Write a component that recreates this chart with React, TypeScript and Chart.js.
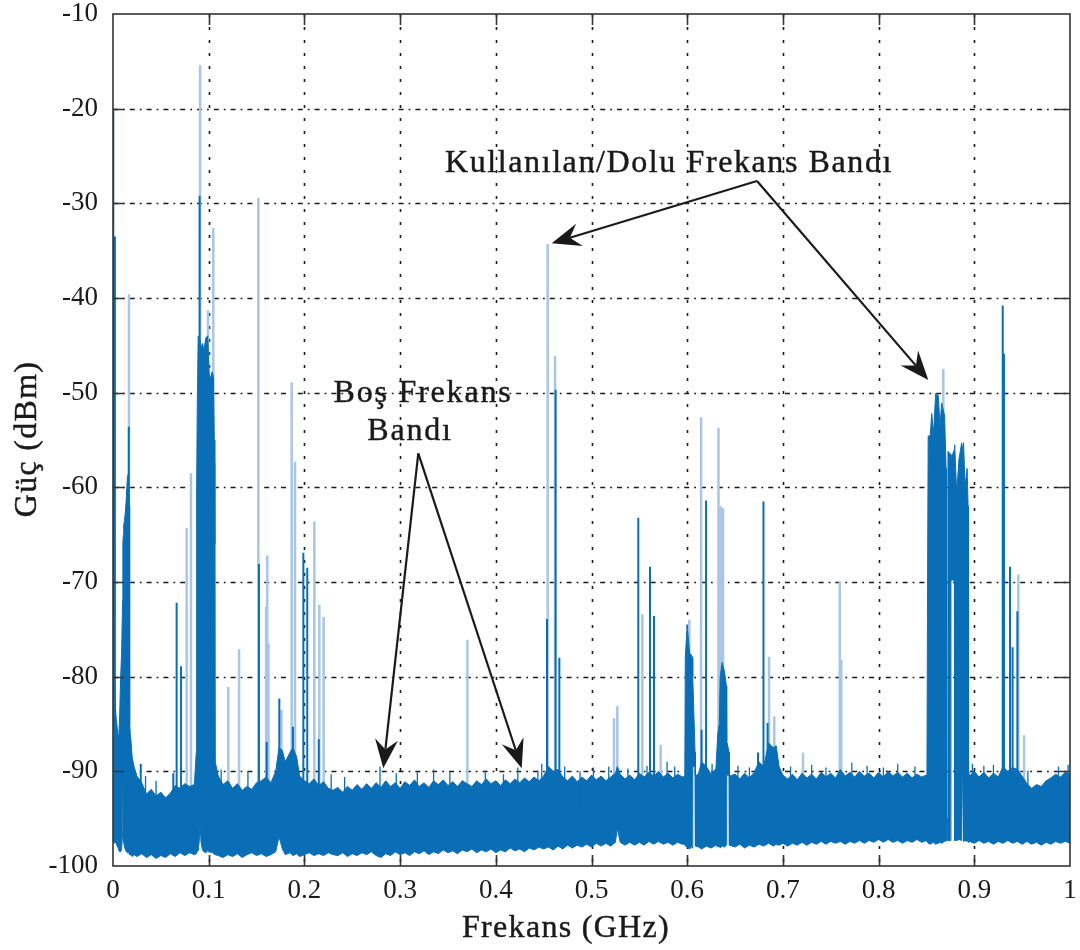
import React, { useEffect, useRef } from "react";
import { Chart, registerables } from "chart.js";

Chart.register(...registerables);

const FONT = "'Liberation Serif', 'Times New Roman', serif";
const DARK = "#0a6eb6";
const LIGHT = "#a9c6e4";
const INK = "#1a1a1a";

// Axis ticks
const xTickValues = [0, 0.1, 0.2, 0.3, 0.4, 0.5, 0.6, 0.7, 0.8, 0.9, 1];
const xTickLabels = ["0", "0.1", "0.2", "0.3", "0.4", "0.5", "0.6", "0.7", "0.8", "0.9", "1"];
const yTickValues = [-100, -90, -80, -70, -60, -50, -40, -30, -20, -10];

// Noise floor envelope (GHz, dBm)
const noiseFreq = [
  0, 0.001, 0.002, 0.003, 0.004, 0.005, 0.006, 0.007, 0.008, 0.009,
  0.01, 0.0103, 0.0108, 0.0112, 0.012, 0.013, 0.014, 0.015, 0.0162, 0.017,
  0.0174, 0.018, 0.019, 0.02, 0.022, 0.025, 0.03, 0.035, 0.04, 0.045,
  0.05, 0.055, 0.06, 0.065, 0.07, 0.075, 0.08, 0.085, 0.087, 0.0874,
  0.088, 0.089, 0.09, 0.091, 0.092, 0.0935, 0.095, 0.097, 0.099, 0.1005,
  0.102, 0.1035, 0.105, 0.1058, 0.1064, 0.1068, 0.11, 0.115, 0.12, 0.125,
  0.13, 0.135, 0.14, 0.145, 0.15, 0.155, 0.16, 0.165, 0.17, 0.1735,
  0.177, 0.18, 0.185, 0.188, 0.192, 0.195, 0.2, 0.205, 0.21, 0.215,
  0.22, 0.225, 0.23, 0.235, 0.24, 0.245, 0.25, 0.255, 0.26, 0.265,
  0.27, 0.275, 0.28, 0.285, 0.29, 0.295, 0.3, 0.305, 0.31, 0.315,
  0.32, 0.325, 0.33, 0.335, 0.34, 0.345, 0.35, 0.355, 0.36, 0.365,
  0.37, 0.375, 0.38, 0.385, 0.39, 0.395, 0.4, 0.405, 0.41, 0.415,
  0.42, 0.425, 0.43, 0.435, 0.44, 0.445, 0.45, 0.455, 0.46, 0.465,
  0.47, 0.475, 0.48, 0.485, 0.49, 0.495, 0.5, 0.505, 0.51, 0.515,
  0.52, 0.525, 0.527, 0.53, 0.535, 0.54, 0.545, 0.55, 0.555, 0.56,
  0.565, 0.57, 0.575, 0.58, 0.585, 0.59, 0.595, 0.5975, 0.598, 0.6,
  0.6025, 0.6045, 0.6055, 0.6058, 0.6082, 0.6086, 0.612, 0.615, 0.62, 0.625,
  0.63, 0.632, 0.6335, 0.6345, 0.6365, 0.639, 0.641, 0.6413, 0.6438, 0.6441,
  0.65, 0.655, 0.66, 0.665, 0.67, 0.675, 0.68, 0.685, 0.69, 0.693,
  0.696, 0.7, 0.705, 0.71, 0.715, 0.72, 0.725, 0.73, 0.735, 0.74,
  0.745, 0.75, 0.755, 0.76, 0.765, 0.77, 0.775, 0.78, 0.785, 0.79,
  0.795, 0.8, 0.805, 0.81, 0.815, 0.82, 0.825, 0.83, 0.835, 0.84,
  0.845, 0.85, 0.8505, 0.8512, 0.8518, 0.854, 0.8555, 0.8575, 0.8596, 0.8624,
  0.8642, 0.8659, 0.869, 0.8705, 0.8709, 0.8712, 0.8722, 0.8725, 0.8752, 0.8756,
  0.8792, 0.8795, 0.8816, 0.884, 0.8868, 0.8877, 0.8885, 0.8888, 0.8903, 0.8925,
  0.8935, 0.894, 0.895, 0.9, 0.905, 0.91, 0.915, 0.92, 0.925, 0.93,
  0.935, 0.94, 0.945, 0.95, 0.955, 0.96, 0.965, 0.97, 0.975, 0.98,
  0.985, 0.99, 0.995, 1,
];
const noiseTop = [
  -76, -80, -82, -84, -85, -86, -86.5, -84, -80, -77.5,
  -72, -66, -65, -64, -63.5, -62.5, -61, -59, -58.5, -62,
  -85, -86, -87, -88.5, -89.5, -90.5, -91.2, -92.4, -91.9, -92.6,
  -92.2, -92.8, -92.3, -91.5, -91.8, -91.3, -91.6, -91.4, -88, -60,
  -52, -44, -44.2, -44.5, -45.3, -44.8, -45.5, -44.2, -44, -48,
  -48.5, -47.8, -48.3, -55, -66, -89, -90.5, -91.4, -91, -91.8,
  -91.3, -92, -91.6, -91.9, -91.2, -91, -90.6, -91.2, -90, -87.5,
  -87.8, -89, -88, -87.5, -88.5, -90.5, -91, -91.3, -90.8, -91.5,
  -91.1, -91.8, -92, -91.7, -92.2, -91.6, -92, -91.4, -91.9, -91.3,
  -91.8, -91.2, -91.7, -91, -91.6, -91.2, -91.8, -91.1, -91.5, -90.9,
  -91.6, -91.2, -91.7, -91, -91.4, -90.9, -91.5, -91.1, -91.6, -91,
  -91.3, -91.6, -91, -91.4, -90.8, -91.3, -91, -91.5, -90.9, -91.3,
  -90.8, -91.2, -90.7, -91.1, -90.6, -91, -90.5, -89.5, -90, -89.8,
  -90.6, -91, -90.5, -91.1, -90.6, -91, -90.4, -90.9, -90.5, -91,
  -90.6, -90.2, -89.5, -90.3, -90.8, -90.4, -90.9, -90.2, -90.6, -90.1,
  -90.5, -90, -90.6, -90.2, -90.7, -90.3, -90.6, -90.5, -78, -74.5,
  -77.5, -77.7, -78, -80, -88, -90.5, -90.2, -89, -89.5, -90.3,
  -89.7, -86, -85, -80, -78.5, -79.5, -81, -86.8, -88, -90.5,
  -90.3, -90.8, -90.2, -90.7, -90.1, -89, -89.5, -87, -87.5, -87.3,
  -89.5, -90.4, -90.8, -90.3, -90.9, -90.2, -90.7, -90.3, -90.8, -90.1,
  -90.6, -90.2, -90.7, -89.8, -90.5, -90.1, -90.6, -90, -90.5, -90.2,
  -90.7, -90.1, -90.6, -90, -90.5, -90.1, -90.6, -90.2, -90.7, -90.3,
  -90.6, -90.4, -90.3, -69, -54.6, -54.5, -52.2, -54.3, -50.1, -50.3,
  -53.6, -51.1, -52.5, -58, -60, -95, -95, -56.2, -56.5, -57,
  -56, -55.5, -60.6, -57, -55.3, -56, -55.5, -55.3, -59.9, -58,
  -62, -89.9, -90.5, -90, -90.6, -90.1, -90.7, -90.2, -90.6, -89.5,
  -90, -89.6, -89.8, -90.5, -91.3, -91.8, -91.4, -91.6, -91, -90.7,
  -90.3, -90.6, -90.1, -90.3,
];
const noiseBottom = [
  -97.3, -97.5, -97.6, -97.5, -97.8, -98, -98.3, -98.5, -98.5, -98.2,
  -96.5, -92, -92, -97.5, -98, -98.3, -98.5, -98.6, -98.6, -98.7,
  -98.8, -98.8, -98.9, -99, -98.8, -99, -98.7, -99.1, -98.8, -99.2,
  -98.9, -99.1, -98.7, -99, -98.6, -98.9, -98.6, -98.8, -98.7, -98.6,
  -98.5, -98.4, -97.5, -95.5, -97.5, -98.3, -98.5, -98.6, -98.4, -98.5,
  -98.6, -98.5, -98.7, -98.6, -98.8, -98.8, -98.9, -99.1, -98.8, -99,
  -98.7, -99.1, -98.8, -98.6, -98.9, -98.7, -99, -98.8, -98.5, -96.9,
  -98.2, -98.8, -98.6, -98.9, -98.7, -99, -98.8, -98.6, -98.9, -98.7,
  -98.9, -98.6, -98.8, -98.9, -98.6, -99, -98.7, -98.9, -98.6, -98.8,
  -98.5, -98.9, -99.1, -98.7, -98.9, -98.5, -98.8, -98.6, -98.9, -98.5,
  -98.7, -98.4, -98.8, -98.5, -98.7, -98.3, -98.6, -98.4, -98.7, -98.3,
  -98.5, -98.2, -98.6, -98.3, -98.5, -98.2, -98.6, -98.3, -98.5, -98.1,
  -98.4, -98.2, -98.5, -98.1, -98.3, -98, -98.2, -98, -98.3, -97.9,
  -98.2, -97.8, -98.1, -97.8, -98, -97.7, -98, -97.6, -97.9, -97.6,
  -97.9, -97.5, -96, -97.5, -97.8, -97.5, -97.8, -97.5, -97.8, -97.4,
  -97.7, -97.4, -97.7, -97.5, -97.8, -97.5, -97.7, -97.7, -97.9, -98,
  -98.2, -98, -98.1, -89.5, -89.5, -97.9, -98, -98.2, -97.9, -98.1,
  -97.8, -98, -97.9, -98.1, -97.9, -98, -97.8, -90.4, -90.4, -97.8,
  -98, -97.7, -98.1, -97.8, -98, -97.7, -97.9, -97.6, -97.9, -97.7,
  -97.8, -97.6, -97.9, -97.6, -97.8, -97.5, -97.8, -97.5, -97.7, -97.4,
  -97.7, -97.4, -97.6, -97.4, -97.7, -97.4, -97.6, -97.3, -97.6, -97.3,
  -97.5, -97.2, -97.5, -97.2, -97.5, -97.3, -97.6, -97.3, -97.5, -97.2,
  -97.5, -97.3, -97.4, -97.5, -97.6, -97.7, -97.6, -97.5, -97.7, -97.6,
  -97.5, -97.6, -97.4, -97.3, -97.4, -95.5, -95.5, -97.3, -97.3, -69.8,
  -69.8, -97.3, -97.3, -97.2, -97.3, -90, -90, -97.4, -97.3, -97.4,
  -97.3, -97.5, -97.4, -97.6, -97.3, -97.6, -97.4, -97.7, -97.4, -97.6,
  -97.3, -97.6, -97.4, -97.7, -97.4, -97.7, -97.5, -97.8, -97.5, -97.7,
  -97.4, -97.6, -97.4, -97.6,
];

// Faint single-bin spikes (light blue)
const lightFreq = [
  0.0167, 0.077, 0.0815, 0.091, 0.0993, 0.1048, 0.1063, 0.1205, 0.1317, 0.1519,
  0.16, 0.1612, 0.1625, 0.176, 0.1867, 0.1902, 0.2104, 0.2156, 0.2201, 0.3703,
  0.4542, 0.4619, 0.5235, 0.527, 0.5531, 0.5723, 0.6022, 0.6145, 0.6327, 0.635,
  0.6375, 0.6855, 0.691, 0.721, 0.7594, 0.761, 0.8676, 0.946, 0.952,
];
const lightTop = [
  -39.6, -64.3, -58.5, -15.4, -41.3, -32.6, -57.4, -81.1, -77.1, -29.4,
  -72.6, -67.2, -76.5, -83.5, -48.9, -57.3, -63.6, -72.4, -73.7, -76.1,
  -34.3, -46.1, -84.4, -83.1, -73.4, -87.2, -74, -52.6, -53.7, -62,
  -62.2, -77.9, -84.2, -88, -70, -78.2, -47.5, -69.2, -86.2,
];

// Strong spikes (solid blue)
const darkFreq = [
  0.0003, 0.002, 0.0165, 0.029, 0.063, 0.0665, 0.0711, 0.0905, 0.1525, 0.1606,
  0.1738, 0.188, 0.1989, 0.203, 0.215, 0.4535, 0.4625, 0.4664, 0.5489, 0.5611,
  0.5653, 0.615, 0.6197, 0.674, 0.6797, 0.684, 0.9297, 0.931, 0.9373, 0.94,
  0.945,
];
const darkTop = [
  -20, -33.5, -53.6, -89.2, -90.2, -72.2, -78.9, -29.2, -68.1, -86.9,
  -82.3, -85.3, -66.9, -68.5, -86.6, -73.9, -49.7, -78, -63.2, -68.4,
  -73.6, -85.6, -61.4, -88, -61.5, -84.9, -40.8, -45.9, -68.4, -76.9,
  -73.1,
];

// Small noise "grass" spikes above the floor
const grassFreq = [
  0.034, 0.045, 0.113, 0.141, 0.228, 0.242, 0.279, 0.296, 0.318, 0.335,
  0.352, 0.389, 0.408, 0.423, 0.444, 0.448, 0.472, 0.488, 0.502, 0.518,
  0.538, 0.558, 0.579, 0.587, 0.626, 0.653, 0.665, 0.708, 0.73, 0.745,
  0.772, 0.788, 0.805, 0.82, 0.838, 0.898, 0.91, 0.92, 0.956, 0.988,
  0.998,
];
const grassTop = [
  -90.5, -91, -89.8, -90, -90.3, -90.6, -89.5, -90.2, -90, -89.8,
  -90.1, -89.9, -90.3, -89.6, -89.9, -89.2, -89.5, -90, -89.6, -89.5,
  -89.7, -89.4, -89, -89.5, -89.2, -89.4, -89.6, -89.5, -89.3, -89.6,
  -89.1, -89.4, -89.6, -89.2, -89.5, -89.2, -89.4, -89.3, -89.9, -89.5,
  -89.3,
];

const SPIKE_BASE = -94;

function spikeSeries(freqs: number[], tops: number[]) {
  const pts: { x: number; y: number | null }[] = [];
  freqs.forEach((f, i) => {
    pts.push({ x: f, y: SPIKE_BASE }, { x: f, y: tops[i] }, { x: f, y: null });
  });
  return pts;
}

function drawArrow(ctx: CanvasRenderingContext2D, x1: number, y1: number, x2: number, y2: number) {
  const ang = Math.atan2(y2 - y1, x2 - x1);
  const c = Math.cos(ang), s = Math.sin(ang);
  const L = 29, W = 11.5, N = 19;
  ctx.beginPath();
  ctx.moveTo(x1, y1);
  ctx.lineTo(x2 - N * c, y2 - N * s);
  ctx.stroke();
  const bx = x2 - L * c, by = y2 - L * s;
  ctx.beginPath();
  ctx.moveTo(x2, y2);
  ctx.lineTo(bx - W * s, by + W * c);
  ctx.lineTo(x2 - N * c, y2 - N * s);
  ctx.lineTo(bx + W * s, by - W * c);
  ctx.closePath();
  ctx.fill();
}

function boldText(ctx: CanvasRenderingContext2D, t: string, x: number, y: number) {
  ctx.fillText(t, x, y);
  ctx.strokeText(t, x, y);
}

const gridPlugin = {
  id: "dottedGrid",
  beforeDatasetsDraw(chart: any) {
    const { ctx, chartArea: a, scales } = chart;
    const x = scales.x, y = scales.y;
    ctx.save();
    ctx.strokeStyle = INK;
    ctx.lineWidth = 1.6;
    ctx.setLineDash([3, 10]);
    xTickValues.slice(1, -1).forEach((v) => {
      const px = Math.round(x.getPixelForValue(v)) + 0.5;
      ctx.beginPath();
      ctx.moveTo(px, a.top);
      ctx.lineTo(px, a.bottom);
      ctx.stroke();
    });
    ctx.setLineDash([5, 5, 1.8, 5]);
    yTickValues.slice(1, -1).forEach((v) => {
      const py = Math.round(y.getPixelForValue(v)) + 0.5;
      ctx.beginPath();
      ctx.moveTo(a.left, py);
      ctx.lineTo(a.right, py);
      ctx.stroke();
    });
    ctx.restore();
  },
};

const framePlugin = {
  id: "frameBox",
  afterDatasetsDraw(chart: any) {
    const { ctx, chartArea: a, scales } = chart;
    const x = scales.x, y = scales.y;
    ctx.save();
    ctx.strokeStyle = "#333";
    ctx.lineWidth = 1.6;
    ctx.setLineDash([]);
    ctx.strokeRect(a.left, a.top, a.right - a.left, a.bottom - a.top);
    const T = 11;
    ctx.beginPath();
    xTickValues.slice(1, -1).forEach((v) => {
      const px = Math.round(x.getPixelForValue(v)) + 0.5;
      ctx.moveTo(px, a.bottom);
      ctx.lineTo(px, a.bottom - T);
      ctx.moveTo(px, a.top);
      ctx.lineTo(px, a.top + T);
    });
    yTickValues.slice(1, -1).forEach((v) => {
      const py = Math.round(y.getPixelForValue(v)) + 0.5;
      ctx.moveTo(a.left, py);
      ctx.lineTo(a.left + T, py);
      ctx.moveTo(a.right, py);
      ctx.lineTo(a.right - T, py);
    });
    ctx.stroke();
    ctx.restore();
  },
};

const textPlugin = {
  id: "texts",
  afterDraw(chart: any) {
    const ctx: CanvasRenderingContext2D = chart.ctx;
    ctx.save();
    ctx.fillStyle = INK;
    ctx.strokeStyle = INK;
    ctx.lineWidth = 0.45;
    ctx.textAlign = "center";
    ctx.textBaseline = "alphabetic";
    ctx.font = `32px ${FONT}`;
    (ctx as any).letterSpacing = "1.3px";
    boldText(ctx, "Frekans (GHz)", 566, 937);
    ctx.save();
    ctx.translate(36, 439);
    ctx.rotate(-Math.PI / 2);
    boldText(ctx, "Güç (dBm)", 0, 0);
    ctx.restore();
    (ctx as any).letterSpacing = "1.6px";
    boldText(ctx, "Kullanılan/Dolu Frekans Bandı", 669, 172);
    (ctx as any).letterSpacing = "1.8px";
    boldText(ctx, "Boş Frekans", 423, 402);
    boldText(ctx, "Bandı", 410, 440);
    (ctx as any).letterSpacing = "0px";
    ctx.lineWidth = 2.2;
    ctx.setLineDash([]);
    drawArrow(ctx, 757, 181, 551.7, 243.3);
    drawArrow(ctx, 757, 181, 928.3, 380);
    drawArrow(ctx, 418.3, 453.3, 383.3, 768.3);
    drawArrow(ctx, 418.3, 453.3, 521.7, 768.3);
    ctx.restore();
  },
};

export default function App() {
  const canvasRef = useRef<HTMLCanvasElement | null>(null);

  useEffect(() => {
    if (!canvasRef.current) return;
    const chart = new Chart(canvasRef.current, {
      type: "line",
      data: {
        datasets: [
          {
            label: "weak spikes",
            data: spikeSeries(lightFreq, lightTop),
            borderColor: LIGHT,
            borderWidth: 2.5,
            borderCapStyle: "butt",
            pointRadius: 0,
            spanGaps: false,
            fill: false,
            order: 4,
          },
          {
            label: "noise top",
            data: noiseFreq.map((f, i) => ({ x: f, y: noiseTop[i] })),
            borderColor: DARK,
            backgroundColor: DARK,
            borderWidth: 1,
            pointRadius: 0,
            fill: "+1",
            order: 3,
          },
          {
            label: "noise bottom",
            data: noiseFreq.map((f, i) => ({ x: f, y: noiseBottom[i] })),
            borderColor: DARK,
            borderWidth: 1,
            pointRadius: 0,
            fill: false,
            order: 3,
          },
          {
            label: "grass",
            data: spikeSeries(grassFreq, grassTop),
            borderColor: DARK,
            borderWidth: 1.3,
            borderCapStyle: "butt",
            pointRadius: 0,
            spanGaps: false,
            fill: false,
            order: 2,
          },
          {
            label: "strong spikes",
            data: spikeSeries(darkFreq, darkTop),
            borderColor: DARK,
            borderWidth: 2,
            borderCapStyle: "butt",
            pointRadius: 0,
            spanGaps: false,
            fill: false,
            order: 1,
          },
        ],
      } as any,
      options: {
        animation: false,
        responsive: true,
        maintainAspectRatio: false,
        devicePixelRatio: 1,
        events: [],
        layout: { padding: { left: 0, top: 14, right: 10, bottom: 0 } },
        plugins: { legend: { display: false }, tooltip: { enabled: false } },
        scales: {
          x: {
            type: "linear",
            min: 0,
            max: 1,
            offset: false,
            grid: { display: false, drawTicks: false },
            border: { display: false },
            ticks: {
              stepSize: 0.1,
              autoSkip: false,
              maxRotation: 0,
              padding: 9,
              color: INK,
              font: { family: FONT, size: 27 },
              callback: (v: any) => {
                const i = xTickValues.findIndex((t) => Math.abs(t - Number(v)) < 1e-6);
                return i >= 0 ? xTickLabels[i] : "";
              },
            },
            afterFit: (s: any) => {
              s.height = 84;
              s.paddingLeft = 0;
              s.paddingRight = 0;
              s.paddingTop = 0;
              s.paddingBottom = 0;
            },
          },
          y: {
            type: "linear",
            min: -100,
            max: -10,
            grid: { display: false, drawTicks: false },
            border: { display: false },
            ticks: {
              stepSize: 10,
              autoSkip: false,
              padding: 15,
              color: INK,
              font: { family: FONT, size: 27 },
              callback: (v: any) => String(Math.round(Number(v))),
            },
            afterFit: (s: any) => {
              s.width = 113;
              s.paddingLeft = 0;
              s.paddingRight = 0;
              s.paddingTop = 0;
              s.paddingBottom = 0;
            },
          },
        },
      } as any,
      plugins: [gridPlugin, framePlugin, textPlugin],
    });
    return () => chart.destroy();
  }, []);

  return (
    <div style={{ position: "absolute", left: 0, top: 0, width: 1080, height: 950, background: "#fff" }}>
      <canvas ref={canvasRef} />
    </div>
  );
}
